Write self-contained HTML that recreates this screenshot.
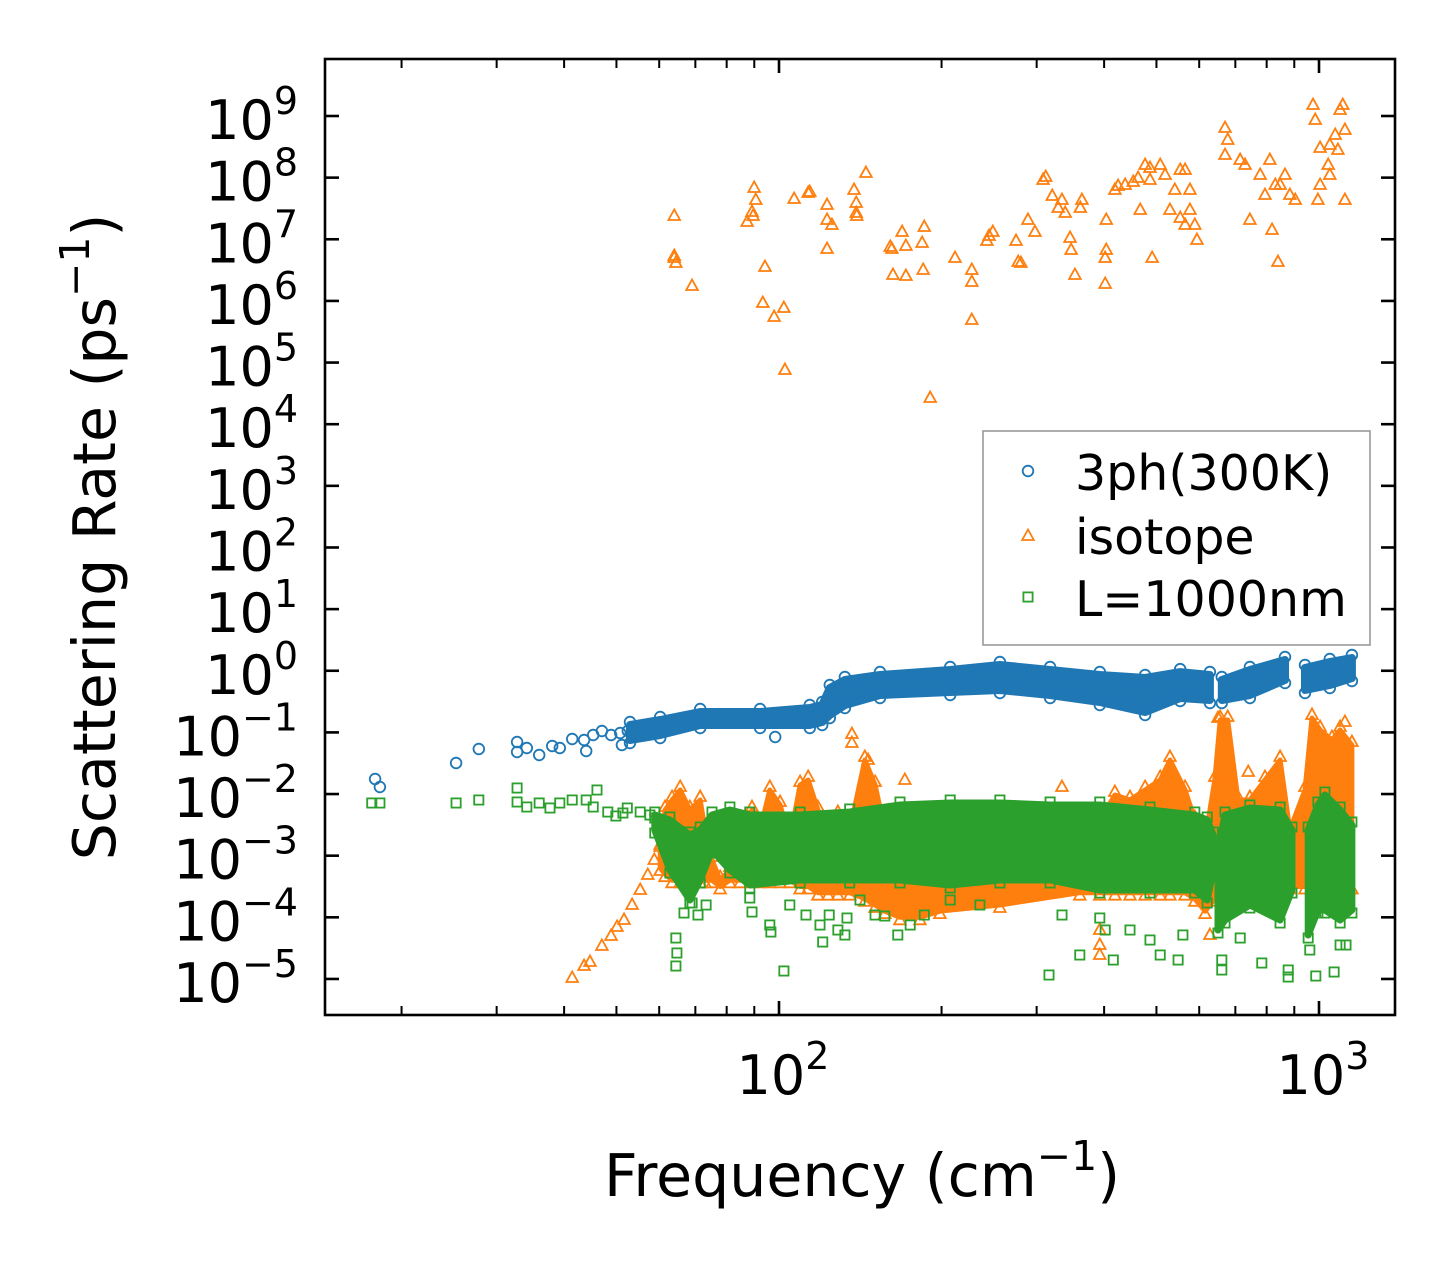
<!DOCTYPE html>
<html><head><meta charset="utf-8"><title>Scattering Rate vs Frequency</title>
<style>
html,body{margin:0;padding:0;background:#fff;}
svg text{font-family:"DejaVu Sans","Liberation Sans",sans-serif;fill:#000;}
</style></head>
<body>
<svg id="chart" width="1455" height="1265" viewBox="0 0 1455 1265" xmlns="http://www.w3.org/2000/svg">
<rect x="0" y="0" width="1455" height="1265" fill="#fff"/>
<g id="plot"></g>
<g id="axes"></g>
<g id="legend"></g>
</svg>
<script>
// ---------- data (log10 frequency [cm^-1], log10 rate [ps^-1]) ----------
const yTickExps = [-5,-4,-3,-2,-1,0,1,2,3,4,5,6,7,8,9];
const xMajorExps = [2,3];
const xMinorValues = [20,30,40,50,60,70,80,90,200,300,400,500,600,700,800,900];

// 3ph (300K) — sparse low-frequency points
const phFreqExp = [1.252,1.261,1.402,1.444,1.515,1.515,1.533,1.556,1.580,1.594,1.617,1.639,1.643,1.656,1.672,1.689,1.706,1.709,1.720,1.993];
const phRateExp = [-1.756,-1.886,-1.497,-1.269,-1.156,-1.318,-1.253,-1.366,-1.221,-1.253,-1.107,-1.123,-1.302,-1.042,-0.977,-1.042,-1.010,-1.205,-0.977,-1.075];
// 3ph dense cloud envelope (null = gap)
const phBandFreqExp = [1.724,1.780,1.854,1.965,2.057,2.080,2.094,2.122,2.187,2.317,2.409,2.502,2.594,2.678,2.743,2.798,null,2.820,2.872,2.937,null,2.974,3.020,3.061];
const phBandTopExp  = [-0.880,-0.799,-0.669,-0.669,-0.604,-0.556,-0.280,-0.150,-0.069,0.012,0.093,0.012,-0.069,-0.118,-0.021,-0.069,null,-0.150,0.012,0.175,null,0.045,0.142,0.207];
const phBandBotExp  = [-1.123,-1.042,-0.880,-0.880,-0.880,-0.831,-0.718,-0.556,-0.393,-0.345,-0.312,-0.393,-0.507,-0.669,-0.442,-0.474,null,-0.474,-0.393,-0.150,null,-0.312,-0.231,-0.118];

// isotope — sparse points
const isoFreqExp = [1.806,1.806,1.809,1.839,1.806,1.954,1.957,1.950,1.952,1.974,1.970,1.991,2.009,2.011,1.941,2.028,2.054,2.057,2.089,2.089,2.089,2.098,2.139,2.143,2.143,2.144,2.161,2.206,2.209,2.211,2.228,2.235,2.235,2.265,2.267,2.269,2.280,2.326,2.357,2.357,2.357,2.385,2.389,2.396,2.439,2.443,2.448,2.461,2.474,2.489,2.494,2.506,2.517,2.524,2.530,2.539,2.541,2.548,2.561,2.558,2.606,2.606,2.604,2.604,2.622,2.628,2.641,2.656,2.665,2.669,2.678,2.687,2.687,2.691,2.706,2.715,2.724,2.733,2.743,2.752,2.761,2.774,2.770,2.752,2.743,2.761,2.826,2.831,2.826,2.854,2.863,2.891,2.909,2.919,2.928,2.937,2.946,2.872,2.900,2.913,2.924,2.956,2.989,2.993,3.002,2.998,3.002,3.020,3.030,3.039,3.048,3.035,3.044,3.048,3.020,3.017,
1.617,1.639,1.650,1.672,1.689,1.700,1.713,1.728,1.743,1.757,1.769,1.780,
2.135,2.135,2.165,2.233,2.524,2.869,2.813,3.048,2.594,2.594,2.594,2.798];
const isoRateExp = [7.378,6.729,6.615,6.242,6.696,7.832,7.637,7.443,7.378,6.550,5.966,5.739,5.885,4.879,7.280,7.653,7.751,7.767,7.556,7.313,6.842,7.232,7.800,7.589,7.426,7.378,8.075,6.875,6.842,6.421,7.118,6.891,6.404,6.940,6.502,7.199,4.425,6.696,6.502,6.307,5.690,6.972,7.053,7.118,6.972,6.631,6.615,7.313,7.118,7.962,8.010,7.702,7.507,7.637,7.426,7.021,6.826,6.421,7.637,7.507,7.313,6.826,6.696,6.275,7.800,7.864,7.881,7.929,7.994,7.475,8.205,8.156,7.962,6.696,8.205,8.043,7.475,7.800,8.124,8.124,7.475,6.988,7.232,7.232,7.345,7.800,8.805,8.611,8.367,8.286,8.205,8.043,8.286,7.881,7.881,8.043,7.718,7.313,7.718,7.151,6.631,7.637,9.178,8.935,8.481,7.637,7.881,8.530,8.692,9.097,8.773,8.448,9.178,7.637,8.043,8.205,
-4.984,-4.790,-4.725,-4.465,-4.303,-4.157,-4.043,-3.800,-3.557,-3.313,-3.070,-2.827,
-1.026,-1.172,-1.448,-1.772,-1.886,-1.643,-0.766,-0.831,-4.206,-4.449,-4.611,-4.287];
// isotope dense cloud envelope
const isoBandFreqExp = [1.780,1.789,1.802,1.817,1.835,1.854,1.863,1.876,1.891,1.909,1.928,1.950,1.965,1.983,2.002,2.020,2.039,2.054,2.072,2.091,2.109,2.131,2.159,2.178,2.196,2.224,2.261,2.298,2.409,2.557,2.594,2.622,2.650,2.678,2.706,2.724,2.752,2.770,2.789,2.807,2.817,2.831,2.850,2.872,2.900,2.928,2.946,2.974,2.987,3.002,3.024,3.039,3.061];
const isoBandTopExp  = [-2.908,-2.259,-2.097,-1.934,-2.259,-2.097,-2.583,-3.070,-3.394,-3.232,-2.746,-2.259,-2.583,-1.934,-2.178,-2.746,-1.853,-1.772,-2.259,-2.583,-2.340,-2.583,-1.448,-1.853,-2.583,-2.421,-2.340,-2.583,-2.827,-2.583,-2.421,-2.015,-2.097,-1.934,-1.772,-1.448,-1.934,-2.421,-2.746,-1.772,-0.799,-0.799,-2.097,-2.097,-1.772,-1.448,-2.583,-1.934,-0.766,-0.961,-1.123,-0.961,-1.205];
const isoBandBotExp  = [-3.2,-3.3,-3.4,-3.4,-3.4,-3.4,-3.4,-3.4,-3.5,-3.4,-3.4,-3.4,-3.4,-3.4,-3.4,-3.4,-3.5,-3.5,-3.6,-3.6,-3.6,-3.6,-3.7,-3.8,-3.9,-4.0,-4.0,-3.9,-3.8,-3.6,-3.6,-3.6,-3.6,-3.6,-3.6,-3.6,-3.6,-3.7,-3.9,-3.7,-3.6,-3.6,-3.5,-3.5,-3.5,-3.5,-3.5,-3.5,-3.5,-3.5,-3.5,-3.5,-3.5];

// L = 1000 nm — sparse points
const bdFreqExp = [1.246,1.261,1.402,1.444,1.515,1.515,1.533,1.556,1.576,1.594,1.617,1.643,1.656,1.663,1.683,1.698,1.719,1.743,1.761,1.770,1.711,
1.809,1.811,1.809,1.824,1.839,1.850,1.865,1.946,1.950,1.983,1.985,2.009,2.020,2.050,2.076,2.081,2.093,2.109,2.126,2.122,2.150,2.178,2.196,2.220,2.243,2.269,2.317,2.372,2.500,2.524,2.557,2.594,2.604,2.619,2.650,2.687,2.706,2.739,2.748,2.820,2.820,2.854,2.894,2.943,2.943,2.994,3.028,3.039,3.050,2.983];
const bdRateExp = [-2.145,-2.145,-2.145,-2.097,-1.902,-2.129,-2.210,-2.145,-2.227,-2.145,-2.097,-2.097,-2.210,-1.934,-2.291,-2.356,-2.227,-2.291,-2.340,-2.389,-2.307,
-4.336,-4.579,-4.790,-3.930,-3.767,-3.962,-3.800,-3.686,-3.914,-4.124,-4.238,-4.871,-3.800,-3.962,-4.124,-4.401,-3.962,-4.206,-4.011,-4.287,-3.719,-3.962,-3.978,-4.287,-4.124,-3.962,-3.719,-3.800,-4.936,-3.962,-4.611,-4.011,-4.206,-4.692,-4.206,-4.368,-4.611,-4.692,-4.287,-4.692,-4.855,-4.336,-4.741,-4.855,-4.968,-4.952,-4.887,-4.449,-4.449,-4.530];
// L = 1000 nm dense cloud envelope
const bdBandFreqExp = [1.770,1.798,1.835,1.854,1.876,1.909,1.946,2.039,2.131,2.224,2.317,2.409,2.502,2.594,2.687,2.770,2.793,2.804,null,2.813,2.826,2.872,2.928,2.950,null,2.980,2.998,3.011,3.039,3.061];
const bdBandTopExp  = [-2.340,-2.421,-2.664,-2.583,-2.340,-2.259,-2.340,-2.340,-2.291,-2.178,-2.145,-2.145,-2.178,-2.178,-2.259,-2.340,-2.421,-2.664,null,-2.908,-2.340,-2.227,-2.259,-2.583,null,-2.583,-2.178,-2.015,-2.259,-2.502];
const bdBandBotExp  = [-2.583,-3.232,-3.719,-3.394,-2.908,-3.232,-3.476,-3.394,-3.394,-3.394,-3.476,-3.394,-3.394,-3.557,-3.557,-3.557,-3.719,-3.232,null,-4.206,-4.043,-3.800,-4.043,-3.557,null,-4.287,-3.881,-3.881,-4.043,-3.881];

const seriesNames = ["3ph(300K)","isotope","L=1000nm"];
const seriesColors = ["#1f77b4","#ff7f0e","#2ca02c"];

// ---------- axes ----------
const X0=325, X1=1395, Y0=59, Y1=1015;
const xRef=779, xDec=540;
const yRef=116, yDec=61.64;
function xs(lf){ return xRef + (lf-2)*xDec; }
function ys(ly){ return yRef + (9-ly)*yDec; }

const NS="http://www.w3.org/2000/svg";
function mk(tag, attrs, parent){
  const e=document.createElementNS(NS,tag);
  for(const k in attrs) e.setAttribute(k,attrs[k]);
  parent.appendChild(e); return e;
}
const plot=document.getElementById('plot');
const axes=document.getElementById('axes');
const legend=document.getElementById('legend');

const clip=mk('clipPath',{id:'clipP'},plot);
mk('rect',{x:X0,y:Y0,width:X1-X0,height:Y1-Y0},clip);
const pg=mk('g',{'clip-path':'url(#clipP)'},plot);

function marker(kind, cx, cy, color, parent){
  let e;
  if(kind===0){ e=mk('circle',{cx:cx.toFixed(1),cy:cy.toFixed(1),r:5.3,fill:'none',stroke:color,'stroke-width':1.8},parent); }
  else if(kind===1){ e=mk('polygon',{points:`${cx},${cy-6.5} ${cx+5.8},${cy+4} ${cx-5.8},${cy+4}`,fill:'none',stroke:color,'stroke-width':1.8},parent); }
  else { e=mk('rect',{x:(cx-4.6).toFixed(1),y:(cy-4.6).toFixed(1),width:9.2,height:9.2,fill:'none',stroke:color,'stroke-width':1.8},parent); }
  return e;
}
function drawBand(fx, top, bot, kind, color, g, name, sw){
  let seg=[];
  const segs=[];
  for(let i=0;i<=fx.length;i++){
    if(i===fx.length || fx[i]===null){ if(seg.length) segs.push(seg); seg=[]; }
    else seg.push(i);
  }
  segs.forEach(s=>{
    const pts=s.map(i=>xs(fx[i]).toFixed(1)+','+ys(top[i]).toFixed(1))
      .concat(s.slice().reverse().map(i=>xs(fx[i]).toFixed(1)+','+ys(bot[i]).toFixed(1)));
    const p=mk('polygon',{points:pts.join(' '),fill:color,stroke:color,'stroke-width':sw,'stroke-linejoin':'round'},g);
    
    
    s.forEach(i=>{
      const m1=marker(kind,xs(fx[i]),ys(top[i])-3,color,g);
      
      
      const m2=marker(kind,xs(fx[i]),ys(bot[i])+3,color,g);
      
      
    });
  });
}
function drawPoints(fx, vy, kind, color, g, name){
  for(let i=0;i<fx.length;i++){
    const m=marker(kind,xs(fx[i]),ys(vy[i]),color,g);
    
    
  }
}
const g0=mk('g',{},pg);  
drawBand(phBandFreqExp,phBandTopExp,phBandBotExp,0,seriesColors[0],g0,'3ph',8);
drawPoints(phFreqExp,phRateExp,0,seriesColors[0],g0,'3ph');
const g1=mk('g',{},pg);  
drawBand(isoBandFreqExp,isoBandTopExp,isoBandBotExp,1,seriesColors[1],g1,'isotope',5);
drawPoints(isoFreqExp,isoRateExp,1,seriesColors[1],g1,'isotope');
const g2=mk('g',{},pg);  
drawBand(bdBandFreqExp,bdBandTopExp,bdBandBotExp,2,seriesColors[2],g2,'boundary',7);
drawPoints(bdFreqExp,bdRateExp,2,seriesColors[2],g2,'boundary');

const fr=mk('rect',{x:X0,y:Y0,width:X1-X0,height:Y1-Y0,fill:'none',stroke:'#000','stroke-width':2.6},axes);



function sup10(x,y,exp,anchor,parent,name){
  const t=mk('text',{x:x,y:y,'font-size':54,'text-anchor':anchor},parent);
  
  
  const a=document.createElementNS(NS,'tspan'); a.textContent='10'; t.appendChild(a);
  const b=document.createElementNS(NS,'tspan'); b.setAttribute('dy','-25'); b.setAttribute('font-size','38');
  b.textContent = exp<0 ? '\u2212'+(-exp) : String(exp); t.appendChild(b);
  return t;
}
yTickExps.forEach(e=>{
  const y=ys(e);
  const t1=mk('line',{x1:X0,x2:X0+14,y1:y,y2:y,stroke:'#000','stroke-width':2.6},axes);
   
  const t2=mk('line',{x1:X1-14,x2:X1,y1:y,y2:y,stroke:'#000','stroke-width':2.6},axes);
   
  sup10(298,y+23,e,'end',axes,'y-tick-label');
});
xMajorExps.forEach(e=>{
  const x=xs(e);
  const t1=mk('line',{x1:x,x2:x,y1:Y1,y2:Y1-14,stroke:'#000','stroke-width':2.6},axes);
   
  const t2=mk('line',{x1:x,x2:x,y1:Y0,y2:Y0+14,stroke:'#000','stroke-width':2.6},axes);
   
  sup10(x+4,1094,e,'middle',axes,'x-tick-label');
});
xMinorValues.forEach(v=>{
  const x=xs(Math.log10(v));
  const t1=mk('line',{x1:x,x2:x,y1:Y1,y2:Y1-9,stroke:'#000','stroke-width':2},axes);
   
  const t2=mk('line',{x1:x,x2:x,y1:Y0,y2:Y0+9,stroke:'#000','stroke-width':2},axes);
   
});
const xt=mk('text',{x:862,y:1196,'font-size':58.5,'text-anchor':'middle'},axes);
 
xt.innerHTML='Frequency (cm<tspan dy="-26" font-size="41">\u22121</tspan><tspan dy="26">)</tspan>';
const yt=mk('text',{x:0,y:0,'font-size':58.5,'text-anchor':'middle',transform:'translate(115,537) rotate(-90)'},axes);
 
yt.innerHTML='Scattering Rate (ps<tspan dy="-26" font-size="41">\u22121</tspan><tspan dy="26">)</tspan>';

const lb=mk('rect',{x:983,y:431,width:387,height:214,fill:'#fff','fill-opacity':0.85,stroke:'#999','stroke-width':1.6},legend);
 
const ly=[471,535,597];
seriesNames.forEach((n,i)=>{
  const m=marker(i,1028,ly[i]+(i===1?1:0),seriesColors[i],legend);
   
  const t=mk('text',{x:1075,y:ly[i]+19,'font-size':49},legend);
   
  t.textContent=n;
});
</script>
</body></html>
